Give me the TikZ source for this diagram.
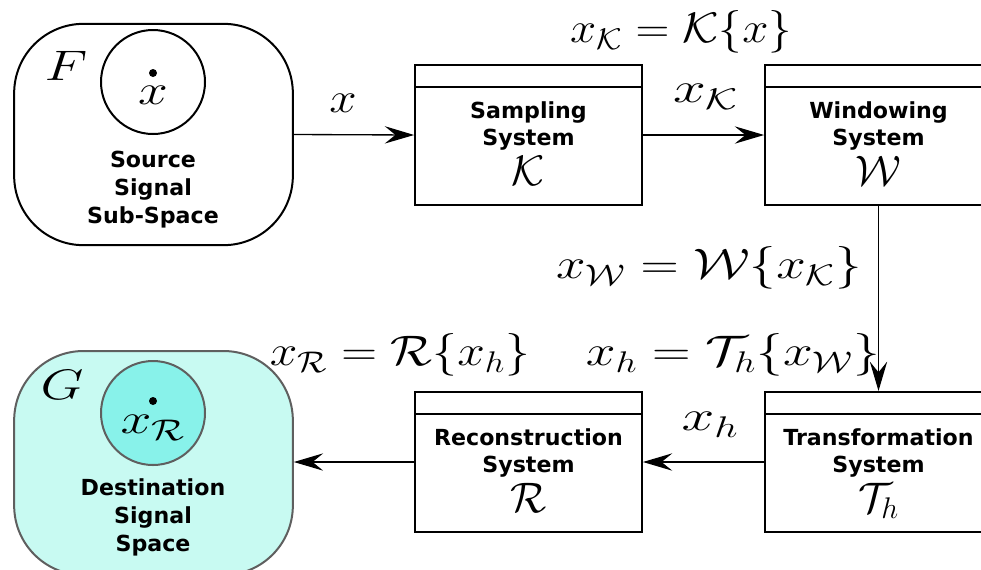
\RequirePackage{fix-cm}
\documentclass[tikz,border=0pt]{standalone}
\usepackage{fontspec}
\setsansfont{DejaVu Sans}
\usepackage{amsmath}
\usetikzlibrary{arrows.meta}

\definecolor{dstfill}{RGB}{200,250,242}
\definecolor{dstcirc}{RGB}{136,242,234}
\definecolor{dstline}{RGB}{95,95,95}

\newcommand{\sysop}[1]{{\fontsize{32}{38}\selectfont$#1$}}

\tikzset{
  space/.style={draw, line width=1.5pt, rounded corners=52pt, minimum width=209pt, minimum height=166pt},
  subspace/.style={draw, circle, line width=1.5pt, minimum size=78pt},
  sysbox/.style={draw, line width=1.6pt, minimum width=170pt, minimum height=105pt},
  settext/.style={font=\sffamily\bfseries\fontsize{16.6}{20.8}\selectfont, align=center, inner sep=0pt, anchor=base},
  mathlbl/.style={font=\fontsize{32}{38}\selectfont, inner sep=0pt},
  flow/.style={-{Stealth[length=22pt,width=13pt,inset=8pt]}, line width=1pt}
}

\begin{document}
\begin{tikzpicture}[x=0.75pt, y=-0.75pt]
\useasboundingbox (0,0) rectangle (981,569);

\node[space] (src) at (153.5,134.5) {};
\node[subspace] (srcc) at (153,82) {};
\fill (153,73) circle (3pt) coordinate (srcdot);
\node[mathlbl, xscale=1.25] (srcx) at (153,95) {$x$};
\node[mathlbl, xscale=1.3] (F) at (66,66) {$F$};
\node[settext] (srct) at (153,223) {Source\\Signal\\Sub-Space};

\node[space, draw=dstline, fill=dstfill, minimum height=168pt] (dst) at (153.5,463) {};
\node[subspace, draw=dstline, fill=dstcirc] (dstc) at (153,413) {};
\fill (153,401) circle (3pt) coordinate (dstdot);
\node[mathlbl, xscale=1.3] (dstx) at (153,428) {$x_{\mathcal{R}}$};
\node[mathlbl, xscale=1.3] (G) at (62,385) {$G$};
\node[settext] (dstt) at (153,551) {Destination\\Signal\\Space};

\node[sysbox] (samp) at (528.5,135) {};
\node[sysbox] (wind) at (878.5,135) {};
\node[sysbox] (trans) at (878.5,462) {};
\node[sysbox] (recon) at (528.5,462) {};
\foreach \n in {samp,wind,trans,recon}
  \draw[line width=1.6pt] ([yshift=-17.25pt]\n.north west) -- ([yshift=-17.25pt]\n.north east);

\node[settext] (sampt) at (528.5,185) {Sampling\\System\\[3pt]\sysop{\mathcal{K}}};
\node[settext] (windt) at (878.5,185) {Windowing\\System\\[3pt]\sysop{\mathcal{W}}};
\node[settext] (transt) at (878.5,512) {Transformation\\System\\[3pt]\sysop{\mathcal{T}_h}};
\node[settext] (recont) at (528.5,512) {Reconstruction\\System\\[3pt]\sysop{\mathcal{R}}};

\draw[flow] (src.east) -- (samp.west);
\draw[flow] (samp.east) -- (wind.west);
\draw[flow] (wind.south) -- (trans.north);
\draw[flow] (trans.west) -- (recon.east);
\draw[flow] (recon.west) -- (dst.east |- recon.west);

\node[mathlbl, xscale=1.15] (lx) at (343,103) {$x$};
\node[mathlbl, xscale=1.38] (lxk) at (706,97) {$x_{\mathcal{K}}$};
\node[mathlbl, xscale=1.1] (eqk) at (681,32) {$x_{\mathcal{K}} = \mathcal{K}\{x\}$};
\node[mathlbl, xscale=1.24] (eqw) at (709,268) {$x_{\mathcal{W}} = \mathcal{W}\{x_{\mathcal{K}}\}$};
\node[mathlbl, xscale=1.25] (eqt) at (733,355) {$x_h = \mathcal{T}_h\{x_{\mathcal{W}}\}$};
\node[mathlbl, xscale=1.16] (eqr) at (400,355) {$x_{\mathcal{R}} = \mathcal{R}\{x_h\}$};
\node[mathlbl, xscale=1.38] (lxh) at (710,425) {$x_h$};
\end{tikzpicture}
\end{document}
